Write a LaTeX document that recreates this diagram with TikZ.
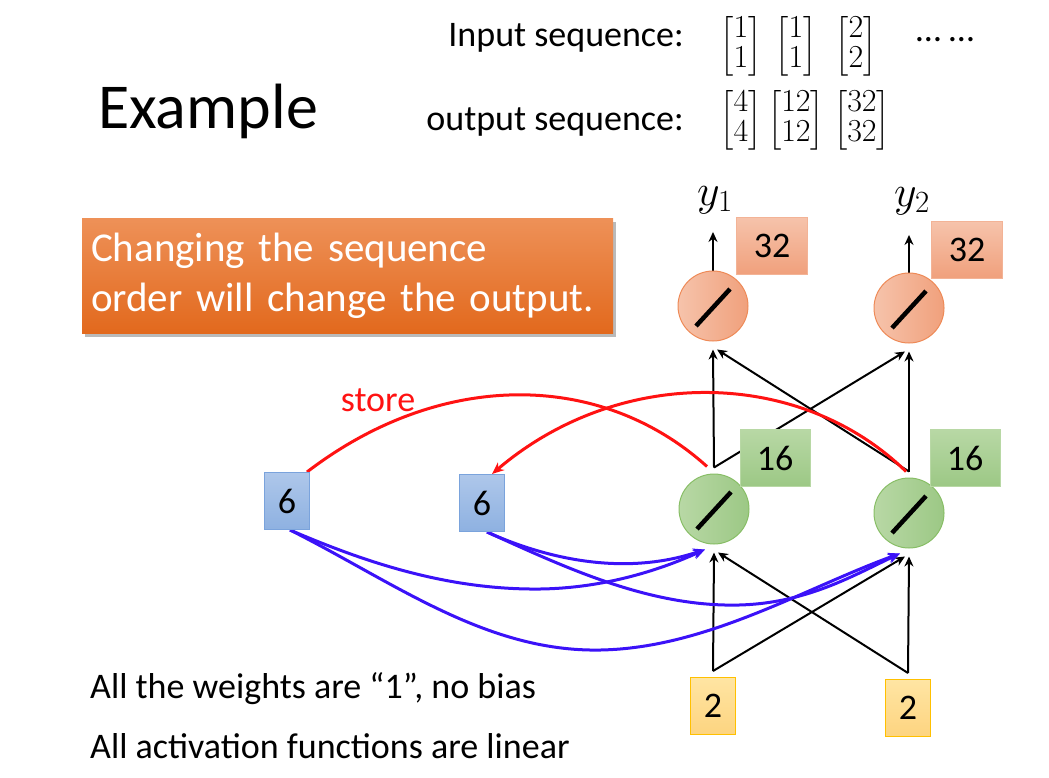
\RequirePackage{fix-cm}
\documentclass[tikz,border=0pt]{standalone}
\usepackage{amsmath}
\usepackage{fontspec}
\setmainfont{Carlito}
\usetikzlibrary{arrows.meta,shadows,backgrounds}
\definecolor{calloutT}{HTML}{EE9158}
\definecolor{calloutB}{HTML}{E2691D}
\definecolor{outL}{HTML}{F6C3AB}
\definecolor{outR}{HTML}{F0A07C}
\definecolor{outE}{HTML}{EE8A57}
\definecolor{hidL}{HTML}{B8D8A5}
\definecolor{hidR}{HTML}{9CC885}
\definecolor{hidE}{HTML}{88BE66}
\definecolor{memT}{HTML}{AEC7EA}
\definecolor{memB}{HTML}{8EB1E1}
\definecolor{memE}{HTML}{7AA3DC}
\definecolor{inT}{HTML}{FFE5A3}
\definecolor{inB}{HTML}{FDD480}
\definecolor{inE}{HTML}{FFC000}
\definecolor{storered}{HTML}{FF1212}
\definecolor{readblue}{HTML}{3B12F8}
\begin{document}
\begin{tikzpicture}[x=1pt,y=-1pt,
  txt/.style={inner sep=0pt,font=\fontsize{36}{43}\selectfont},
  mat/.style={inner sep=0pt,font=\fontsize{32}{30}\selectfont},
  ylbl/.style={inner sep=0pt,font=\fontsize{44}{50}\selectfont},
  neuron/.style={circle,minimum size=70pt,inner sep=0pt,line width=1pt},
  oneuron/.style={neuron,draw=outE,left color=outL,right color=outR},
  hneuron/.style={neuron,draw=hidE,left color=hidL,right color=hidR},
  val/.style={rectangle,inner sep=0pt,minimum height=57pt,line width=1pt,
    font=\fontsize{36}{43}\selectfont},
  oval/.style={val,minimum width=71pt,draw=outR!80,top color=outL,bottom color=outR},
  hval/.style={val,minimum width=70pt,draw=hidL,top color=hidL,bottom color=hidR},
  mval/.style={val,minimum width=45pt,draw=memE,top color=memT,bottom color=memB},
  ival/.style={val,minimum width=45pt,draw=inE,top color=inT,bottom color=inB},
  arr/.style={-{Stealth[length=10pt,width=9pt]},line width=2pt},
  rd/.style={line width=3pt,storered},
  bl/.style={-{Stealth[length=12pt,width=10pt]},line width=3pt,readblue},
  slash/.style={line width=4.5pt,line cap=butt}]
  \useasboundingbox (0,0) rectangle (1049,777);

  \node[inner sep=0pt,font=\fontsize{64}{70}\selectfont,anchor=base west] (title) at (98,128) {Example};
  \node[txt,anchor=east] (inlbl) at (684,38) {Input sequence:};
  \node[txt,anchor=east] (outlbl) at (684,122) {output sequence:};
  \node[mat] (x1) at (741,46) {$\begin{bmatrix}1\\1\end{bmatrix}$};
  \node[mat] (x2) at (796,46) {$\begin{bmatrix}1\\1\end{bmatrix}$};
  \node[mat] (x3) at (856,46) {$\begin{bmatrix}2\\2\end{bmatrix}$};
  \node[txt] (dots) at (945,40) {\dots\ \dots};
  \node[mat] (r1) at (741,120) {$\begin{bmatrix}4\\4\end{bmatrix}$};
  \node[mat] (r2) at (796,120) {$\begin{bmatrix}12\\12\end{bmatrix}$};
  \node[mat] (r3) at (862,120) {$\begin{bmatrix}32\\32\end{bmatrix}$};

  \node[inner xsep=9pt,minimum width=531pt,minimum height=115pt,text width=513pt,align=left,
    top color=calloutT,bottom color=calloutB,text=white,font=\fontsize{41}{50}\selectfont,
    drop shadow={shadow xshift=3pt,shadow yshift=-4pt,opacity=0.45,fill=black!60}]
    (note) at (347.5,275.5) {Changing the sequence\\order will change the output.};

  \node[oneuron] (o1) at (713,306) {};
  \node[oneuron] (o2) at (909,308) {};
  \node[hneuron] (h1) at (714,509) {};
  \node[hneuron] (h2) at (909,513) {};
  \node[oval] (ov1) at (772,246) {32};
  \node[oval] (ov2) at (967,250) {32};
  \node[hval] (hv1) at (775,458) {16};
  \node[hval] (hv2) at (965,458) {16};
  \node[ival] (i1) at (713,706) {2};
  \node[ival] (i2) at (908,708) {2};
  \node[mval] (m1) at (287,501) {6};
  \node[mval] (m2) at (482,503) {6};
  \node[ylbl] (y1) at (715,200) {$y_1$};
  \node[ylbl] (y2) at (912,201) {$y_2$};
  \node[txt,storered] (store) at (378,400) {store};
  \node[txt,anchor=base west] (note1) at (90,698) {All the weights are “1”, no bias};
  \node[txt,anchor=base west] (note2) at (90,758) {All activation functions are linear};

  \foreach \n in {o1,o2,h1,h2}
    \draw[slash] ([shift={(-17,20)}]\n.center) -- ([shift={(17,-17)}]\n.center);

  \begin{scope}[on background layer]
    \draw[arr] ([yshift=6pt]i1.north) -- ([yshift=-8pt]h1.south);
    \draw[arr] ([yshift=6pt]i1.north) -- ([xshift=-4pt,yshift=-8pt]h2.south);
    \draw[arr] ([yshift=6pt]i2.north) -- ([yshift=-8pt]h2.south);
    \draw[arr] ([yshift=6pt]i2.north) -- ([xshift=4pt,yshift=-8pt]h1.south);
    \draw[arr] ([yshift=6pt]h1.north) -- ([yshift=-8pt]o1.south);
    \draw[arr] ([yshift=6pt]h1.north) -- ([xshift=-4pt,yshift=-8pt]o2.south);
    \draw[arr] ([yshift=6pt]h2.north) -- ([yshift=-8pt]o2.south);
    \draw[arr] ([yshift=6pt]h2.north) -- ([xshift=4pt,yshift=-8pt]o1.south);
    \draw[arr] (o1.north) -- ([xshift=-2pt,yshift=-18pt]y1.south);
    \draw[arr] (o2.north) -- ([xshift=-3pt,yshift=-20pt]y2.south);

    \draw[rd] ([xshift=-3pt]m1.north east) .. controls (440,370) and (600,370) .. ([xshift=-7pt,yshift=7pt]h1.north);
    \draw[rd,-{Stealth[length=12pt,width=10pt]}] ([xshift=-3pt,yshift=6pt]h2.north) .. controls (800,368) and (620,365) .. ([xshift=10pt]m2.north);

    \draw[bl] ([xshift=3pt]m1.south) .. controls (360,560) and (440,588) .. (530,589) .. controls (600,590) and (660,570) .. ([xshift=-9pt,yshift=-5pt]h1.south);
    \draw[bl] ([xshift=3pt]m1.south) .. controls (390,580) and (480,648) .. (590,650) .. controls (700,652) and (800,590) .. ([xshift=-9pt,yshift=-5pt]h2.south);
    \draw[bl] ([xshift=5pt]m2.south) .. controls (540,556) and (620,578) .. ([xshift=-9pt,yshift=-5pt]h1.south);
    \draw[bl] ([xshift=5pt]m2.south) .. controls (560,565) and (640,603) .. (725,605) .. controls (800,607) and (850,577) .. ([xshift=-9pt,yshift=-5pt]h2.south);
  \end{scope}
\end{tikzpicture}
\end{document}
